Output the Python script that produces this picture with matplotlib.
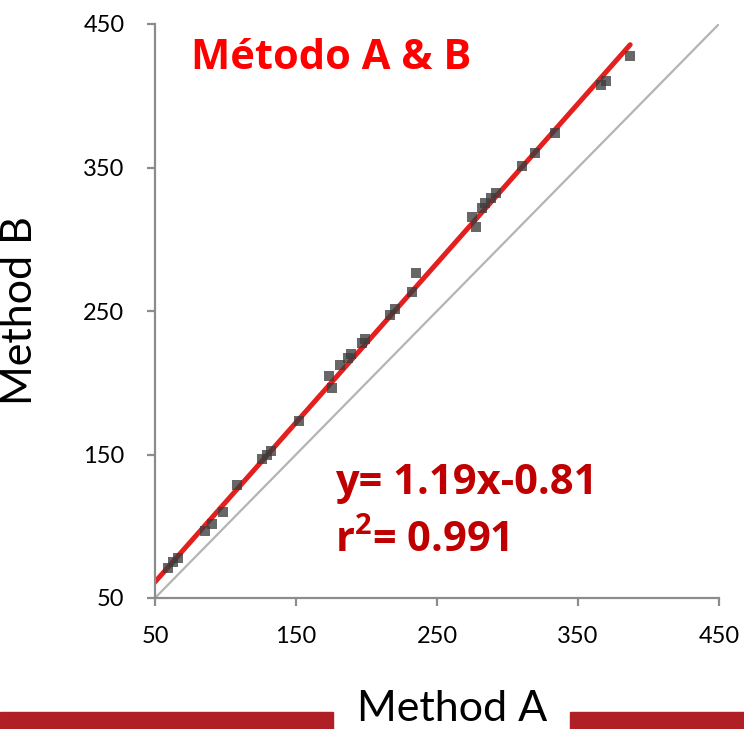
import numpy as np
import matplotlib
matplotlib.use("Agg")
import matplotlib.pyplot as plt
from matplotlib.patches import Rectangle

# ---- data ----
method_a = [59.2, 62.8, 66.3, 85.5, 90.4, 98.2, 108.2, 125.9, 129.4, 132.3,
            152.1, 173.4, 175.5, 181.2, 186.9, 189.0, 196.8, 198.9, 216.7, 220.2,
            232.3, 235.1, 274.8, 277.7, 281.9, 284.0, 288.3, 291.8, 310.3, 319.5,
            333.7, 366.3, 369.9, 386.9]
method_b = [70.9, 75.1, 77.9, 96.7, 101.6, 109.9, 128.7, 146.9, 149.7, 152.4,
            173.3, 204.7, 196.3, 212.4, 217.2, 220.0, 227.7, 230.5, 247.2, 251.4,
            263.2, 276.5, 315.5, 308.5, 321.8, 325.3, 328.7, 332.2, 351.0, 360.1,
            374.0, 407.5, 410.3, 427.7]

# regression line as drawn in the reference
fit_slope = 1.111
fit_intercept = 5.6
fit_x = [50, 387]

identity_x = [50, 450]
ticks = [50, 150, 250, 350, 450]

title = "Método A & B"
eq_line1 = "y= 1.19x-0.81"
eq_line2 = r"r$^{\mathbf{2}}$= 0.991"

plt.rcParams['font.family'] = ['Lato', 'DejaVu Sans']
plt.rcParams['mathtext.fontset'] = 'custom'
plt.rcParams['mathtext.bf'] = 'Open Sans:bold'

fig = plt.figure(figsize=(7.44, 7.29), dpi=100)
ax = fig.add_axes([155/744, 1-598/729, (719-155)/744, (598-24)/729])

ax.plot(identity_x, identity_x, color='#b4b4b4', lw=1.6, zorder=1)
fy = [fit_slope*x + fit_intercept for x in fit_x]
ax.plot(fit_x, fy, color='#e3201e', lw=3.6, solid_capstyle='round', zorder=2)
ax.scatter(method_a, method_b, marker='s', s=62, color='#3c3c3c', alpha=0.78,
           linewidths=0, zorder=3)

ax.set_xlim(50, 450)
ax.set_ylim(50, 450)
ax.set_xticks(ticks)
ax.set_yticks(ticks)
ax.set_xticklabels([str(t) for t in ticks])
ax.set_yticklabels([str(t) for t in ticks])
for s in ['top', 'right']:
    ax.spines[s].set_visible(False)
for s in ['left', 'bottom']:
    ax.spines[s].set_color('#8c8c8c')
    ax.spines[s].set_linewidth(1.6)
ax.tick_params(axis='both', direction='out', length=6, width=1.6, color='#8c8c8c',
               labelsize=17, labelcolor='black')
ax.tick_params(axis='x', pad=14)
ax.tick_params(axis='y', pad=16)
for lab in ax.get_xticklabels() + ax.get_yticklabels():
    lab.set_clip_on(False)

ax.set_ylabel("Method B", fontsize=31, labelpad=20)
ax.yaxis.set_label_coords(-0.205, 0.5)

bold_font = ['Open Sans', 'DejaVu Sans']
fig.text(191/744, 1-69/729, title, color='#ff0000', family=bold_font,
         fontsize=30, fontweight='bold', va='baseline', ha='left')
fig.text(335/744, 1-494/729, eq_line1, color='#c00000', family=bold_font,
         fontsize=30, fontweight='bold', va='baseline', ha='left')
fig.text(335/744, 1-552/729, eq_line2, color='#c00000', family=bold_font,
         fontsize=30, fontweight='bold', va='baseline', ha='left')

# bottom decorative bars and x label
fig.patches.append(Rectangle((0, 0), 333/744, 17/729, transform=fig.transFigure,
                             color='#b01f25', zorder=0))
fig.patches.append(Rectangle((570/744, 0), (744-570)/744, 17/729,
                             transform=fig.transFigure, color='#b01f25', zorder=0))
fig.text(452/744, 1-721/729, "Method A", fontsize=31, ha='center', va='baseline')

fig.savefig("out.png", dpi=100)
